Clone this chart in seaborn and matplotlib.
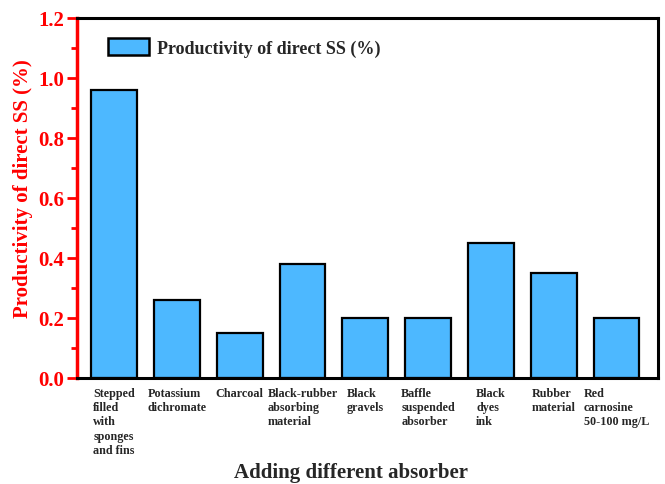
import matplotlib
matplotlib.use("Agg")
import matplotlib.pyplot as plt
import seaborn as sns
import pandas as pd
from matplotlib.ticker import MultipleLocator
from matplotlib.patches import Patch

categories = [
    "Stepped\nfilled\nwith\nsponges\nand fins",
    "Potassium\ndichromate",
    "Charcoal",
    "Black-rubber\nabsorbing\nmaterial",
    "Black\ngravels",
    "Baffle\nsuspended\nabsorber",
    "Black\ndyes\nink",
    "Rubber\nmaterial",
    "Red\ncarnosine\n50-100 mg/L",
]
values = [0.96, 0.26, 0.15, 0.38, 0.20, 0.20, 0.45, 0.35, 0.20]
series_name = "Productivity of direct SS (%)"
y_ticks = [0.0, 0.2, 0.4, 0.6, 0.8, 1.0, 1.2]

sns.set_style("white")
plt.rcParams['font.family'] = ['Liberation Serif', 'DejaVu Serif']
plt.rcParams['font.weight'] = 'bold'

df = pd.DataFrame({"cat": categories, "val": values})

fig = plt.figure(figsize=(6.65, 4.85), dpi=100)
ax = fig.add_axes([77/665, 1 - 379/485, (658-77)/665, (379-19)/485])

bar_color = "#4DB8FF"
bw = 0.73
sns.barplot(data=df, x="cat", y="val", color=bar_color, edgecolor="black",
            linewidth=1.6, width=bw, saturation=1, ax=ax)

ax.set_xlim(-0.59, 8.66)
ax.set_ylim(0, 1.2)
ax.set_yticks(y_ticks)
ax.set_yticklabels([f"{v:.1f}" for v in y_ticks])
ax.yaxis.set_minor_locator(MultipleLocator(0.1))

red = "#FF0000"
ax.tick_params(axis='y', which='major', direction='out', length=7, width=2,
               colors=red, labelsize=15, pad=2, left=True)
ax.tick_params(axis='y', which='minor', direction='out', length=4, width=2,
               colors=red, left=True)
for lab in ax.get_yticklabels():
    lab.set_fontweight('bold')

ax.set_xticks([])
ax.set_xlabel("")
ax.set_ylabel(series_name, color=red, fontsize=15, fontweight='bold')
ax.yaxis.set_label_coords(-0.076, 0.53)

for side in ["top", "right", "bottom"]:
    ax.spines[side].set_visible(True)
    ax.spines[side].set_color("black")
    ax.spines[side].set_linewidth(2.2)
ax.spines["left"].set_color(red)
ax.spines["left"].set_linewidth(2.5)

# category labels, block centred under each bar, lines left aligned
for i, c in enumerate(categories):
    ax.text(i, -0.03, c, ha='center', va='top', multialignment='left',
            fontsize=8.7, fontweight='bold', linespacing=1.25,
            transform=ax.transData, clip_on=False)

fig.text(351/665, 1 - 473/485, "Adding different absorber",
         ha='center', va='center', fontsize=15, fontweight='bold')

handle = Patch(facecolor=bar_color, edgecolor='black', linewidth=1.8)
leg = ax.legend([handle], [series_name], loc='upper left', frameon=False,
                bbox_to_anchor=(0.025, 0.99), handlelength=2.3, handleheight=1.1,
                handletextpad=0.4, prop={'size': 13, 'weight': 'bold'})

fig.savefig("out.png", dpi=100)
